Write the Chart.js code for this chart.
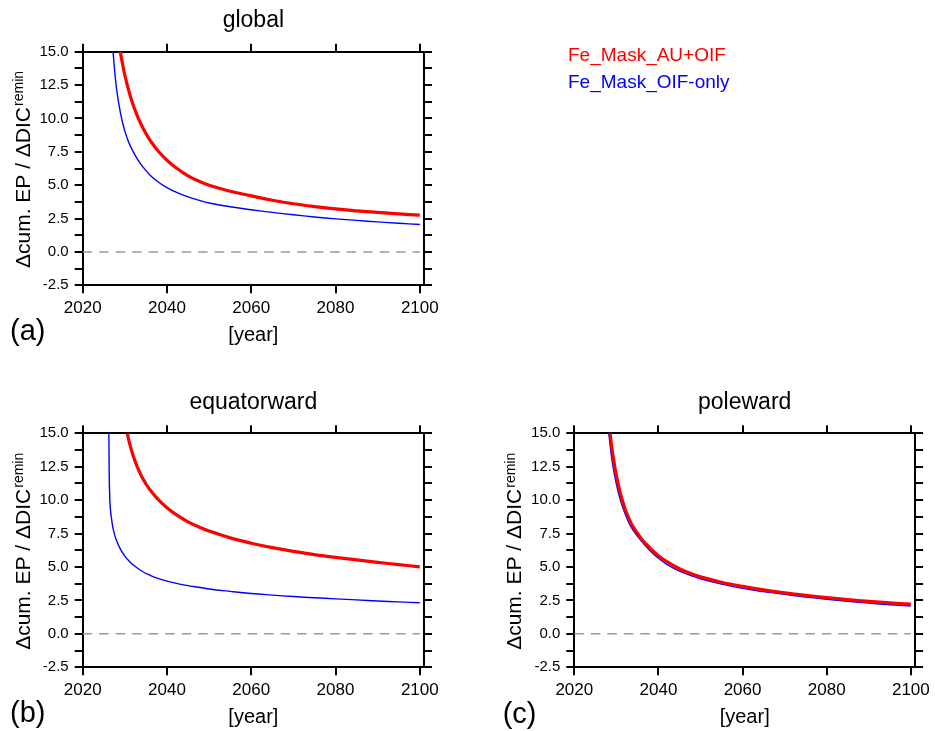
<!DOCTYPE html>
<html>
<head>
<meta charset="utf-8">
<title>cum. EP / DIC remin</title>
<script src="https://cdn.jsdelivr.net/npm/chart.js@4.4.0/dist/chart.umd.min.js"></script>
<style>
  body { margin: 0; background: #fff; }
  #wrap { position: relative; width: 935px; height: 731px; }
  canvas { position: absolute; }
</style>
</head>
<body>
<div id="wrap">
  <canvas id="panelA" width="935" height="365" style="left:0;top:0"></canvas>
  <canvas id="panelB" width="460" height="351" style="left:0;top:380px"></canvas>
  <canvas id="panelC" width="445" height="351" style="left:490px;top:380px"></canvas>
</div>
<script>
// values
var xTickValues = [2020, 2040, 2060, 2080, 2100];
var yTickValues = [-2.5, 0.0, 2.5, 5.0, 7.5, 10.0, 12.5, 15.0];
var seriesNames = ["Fe_Mask_AU+OIF", "Fe_Mask_OIF-only"];
var yTitleMain = "\u0394cum. EP / \u0394DIC";
var yTitleSup = "remin";

// (a) global
var globalAuOifYears  = [2028.9, 2030, 2031, 2032, 2033, 2034, 2035, 2036, 2038, 2040, 2042, 2045,
                         2048, 2050, 2055, 2060, 2065, 2070, 2075, 2080, 2085, 2090, 2095, 2100];
var globalAuOifValues = [15.0, 13.24, 12.0, 10.99, 10.16, 9.47, 8.87, 8.36, 7.52, 6.87, 6.34, 5.70,
                         5.24, 5.0, 4.55, 4.20, 3.87, 3.61, 3.40, 3.22, 3.08, 2.96, 2.85, 2.75];
var globalOifYears    = [2027.2, 2028, 2029, 2030, 2031, 2032, 2033, 2034, 2036, 2038, 2040, 2042,
                         2045, 2048, 2050, 2055, 2060, 2065, 2070, 2075, 2080, 2085, 2090, 2095, 2100];
var globalOifValues   = [15.0, 12.3, 10.35, 9.05, 8.15, 7.5, 6.95, 6.48, 5.75, 5.22, 4.82, 4.5,
                         4.12, 3.83, 3.67, 3.38, 3.16, 2.96, 2.78, 2.62, 2.48, 2.36, 2.25, 2.15, 2.06];

// (b) equatorward
var equatorAuOifYears  = [2030.6, 2031, 2032, 2033, 2034, 2035, 2036, 2038, 2040, 2042, 2045, 2048,
                          2050, 2055, 2060, 2065, 2070, 2075, 2080, 2085, 2090, 2095, 2100];
var equatorAuOifValues = [15.0, 14.4, 13.3, 12.45, 11.77, 11.22, 10.76, 10.02, 9.43, 8.95, 8.38, 7.94,
                          7.69, 7.18, 6.78, 6.45, 6.17, 5.93, 5.72, 5.53, 5.35, 5.18, 5.01];
var equatorOifYears    = [2026.2, 2026.45, 2027, 2027.5, 2028, 2029, 2030, 2031, 2032, 2034, 2036, 2038,
                          2040, 2043, 2046, 2050, 2055, 2060, 2065, 2070, 2075, 2080, 2085, 2090, 2095, 2100];
var equatorOifValues   = [15.0, 9.9, 8.25, 7.5, 7.0, 6.3, 5.82, 5.45, 5.15, 4.7, 4.38, 4.13,
                          3.94, 3.72, 3.55, 3.36, 3.18, 3.02, 2.9, 2.79, 2.7, 2.62, 2.54, 2.46, 2.39, 2.33];

// (c) poleward
var poleAuOifYears  = [2028.5, 2029, 2030, 2031, 2032, 2033, 2034, 2036, 2038, 2040, 2042, 2045, 2048,
                       2050, 2055, 2060, 2065, 2070, 2075, 2080, 2085, 2090, 2095, 2100];
var poleAuOifValues = [15.0, 13.75, 11.85, 10.45, 9.42, 8.62, 8.0, 7.1, 6.42, 5.85, 5.4, 4.87, 4.47,
                       4.26, 3.86, 3.55, 3.29, 3.07, 2.88, 2.71, 2.56, 2.43, 2.32, 2.22];
var poleOifYears    = [2028.2, 2029, 2030, 2031, 2032, 2033, 2034, 2036, 2038, 2040, 2042, 2045, 2048,
                       2050, 2055, 2060, 2065, 2070, 2075, 2080, 2085, 2090, 2095, 2100];
var poleOifValues   = [15.0, 12.9, 11.2, 9.95, 9.05, 8.3, 7.75, 6.92, 6.22, 5.65, 5.2, 4.7, 4.33,
                       4.12, 3.72, 3.4, 3.16, 2.95, 2.76, 2.59, 2.44, 2.3, 2.18, 2.08];

// zero reference line
var zeroYears  = [2020, 2100];
var zeroValues = [0, 0];

var fam = '"Liberation Sans", Arial, Helvetica, sans-serif';
Chart.defaults.font.family = fam;
Chart.defaults.color = "#000";

function points(xs, ys) {
  return xs.map(function(x, i) { return { x: x, y: ys[i] }; });
}

var yMinor = yTickValues.slice(1).map(function(v, i) { return (v + yTickValues[i]) / 2; });
var yAllTicks = yTickValues.concat(yMinor).sort(function(a, b) { return a - b; });

function setXTicks(s) { s.ticks = xTickValues.map(function(v) { return { value: v }; }); }
function setYTicks(s) { s.ticks = yAllTicks.map(function(v) { return { value: v }; }); }

var frameGrid = { drawOnChartArea: false, drawTicks: true, tickLength: 8, tickWidth: 2,
                  tickColor: "#000", color: "#000", lineWidth: 2 };
var frameBorder = { display: true, color: "#000", width: 2 };

// y title with superscript, panel letter and (optional) legend
var panelText = {
  id: "panelText",
  afterDraw: function(chart, args, opts) {
    var c = chart.ctx, ca = chart.chartArea;
    c.save();
    c.fillStyle = "#000";
    c.textAlign = "left";
    c.textBaseline = "alphabetic";
    var mainFont = "21px " + fam, supFont = "14px " + fam;
    c.font = mainFont;
    var w1 = c.measureText(yTitleMain).width;
    c.font = supFont;
    var w2 = c.measureText(yTitleSup).width;
    c.translate(ca.left - 53, (ca.top + ca.bottom) / 2 + 1 + (w1 + w2 + 1) / 2);
    c.rotate(-Math.PI / 2);
    c.font = mainFont;
    c.fillText(yTitleMain, 0, 0);
    c.font = supFont;
    c.fillText(yTitleSup, w1 + 1, -6.5);
    c.restore();

    c.save();
    c.fillStyle = "#000";
    c.textAlign = "left";
    c.textBaseline = "alphabetic";
    c.font = "29px " + fam;
    c.fillText(opts.letter, opts.letterX, opts.letterY);
    if (opts.legend) {
      c.font = "19px " + fam;
      var k = 0;
      chart.data.datasets.forEach(function(ds) {
        if (seriesNames.indexOf(ds.label) < 0) return;
        c.fillStyle = ds.borderColor;
        c.fillText(ds.label, opts.legend.x, opts.legend.y[k]);
        k++;
      });
    }
    c.restore();
  }
};

function makePanel(id, title, auYears, auValues, oifYears, oifValues, g) {
  var W = g.w, H = g.h;
  return new Chart(document.getElementById(id), {
    type: "line",
    data: {
      datasets: [
        { label: seriesNames[0], data: points(auYears, auValues), borderColor: "#ff0000",
          borderWidth: 3.2, pointRadius: 0, fill: false, tension: 0.4 },
        { label: seriesNames[1], data: points(oifYears, oifValues), borderColor: "#0000ff",
          borderWidth: 1.4, pointRadius: 0, fill: false, tension: 0.4 },
        { label: "zero", data: points(zeroYears, zeroValues), borderColor: "#9a9a9a",
          borderWidth: 1.5, borderDash: [9.5, 7], pointRadius: 0, fill: false }
      ]
    },
    options: {
      responsive: false,
      animation: false,
      events: [],
      layout: { autoPadding: false, padding: { left: 0, top: 0, bottom: 0, right: W - g.right - 10 } },
      plugins: {
        legend: { display: false },
        tooltip: { enabled: false },
        title: { display: true, text: title, fullSize: false, color: "#000",
                 font: { size: 23, weight: "normal" }, padding: { top: g.titleMid - 13.8, bottom: 0 } },
        panelText: { letter: g.letter, letterX: g.letterX, letterY: g.letterY, legend: g.legend }
      },
      scales: {
        x: {
          type: "linear", position: "bottom", min: 2020, max: 2101,
          afterBuildTicks: setXTicks,
          afterFit: function(s) { s.height = H - g.bottom; },
          ticks: { font: { size: 17 }, color: "#000", padding: 5, maxRotation: 0, autoSkip: false,
                   callback: function(v) { return String(v); } },
          grid: frameGrid, border: frameBorder,
          title: { display: true, text: "[year]", color: "#000", font: { size: 20 },
                   padding: { top: 0, bottom: H - 12 - g.xTitleMid } }
        },
        xTop: {
          type: "linear", position: "top", min: 2020, max: 2101,
          afterBuildTicks: setXTicks,
          afterFit: function(s) { s.height = g.top - g.titleMid - 13.8; },
          ticks: { display: false },
          grid: frameGrid, border: frameBorder
        },
        y: {
          type: "linear", position: "left", min: -2.5, max: 15,
          afterBuildTicks: setYTicks,
          afterFit: function(s) { s.width = g.left; },
          ticks: { font: { size: 15 }, color: "#000", padding: 6, autoSkip: false,
                   callback: function(v) { return yTickValues.indexOf(v) >= 0 ? v.toFixed(1) : ""; } },
          grid: frameGrid, border: frameBorder
        },
        yRight: {
          type: "linear", position: "right", min: -2.5, max: 15,
          afterBuildTicks: setYTicks,
          afterFit: function(s) { s.width = 10; },
          ticks: { display: false },
          grid: frameGrid, border: frameBorder
        }
      }
    },
    plugins: [panelText]
  });
}

makePanel("panelA", "global", globalAuOifYears, globalAuOifValues, globalOifYears, globalOifValues,
  { w: 935, h: 365, left: 82.7, right: 424, top: 51.7, bottom: 285.3, titleMid: 21, xTitleMid: 335,
    letter: "(a)", letterX: 10, letterY: 340, legend: { x: 568, y: [61, 88] } });

makePanel("panelB", "equatorward", equatorAuOifYears, equatorAuOifValues, equatorOifYears, equatorOifValues,
  { w: 460, h: 351, left: 82.7, right: 424, top: 53.3, bottom: 287.3, titleMid: 22.5, xTitleMid: 337,
    letter: "(b)", letterX: 10, letterY: 341.5 });

makePanel("panelC", "poleward", poleAuOifYears, poleAuOifValues, poleOifYears, poleOifValues,
  { w: 445, h: 351, left: 84.3, right: 426, top: 53.3, bottom: 287.3, titleMid: 22.5, xTitleMid: 337,
    letter: "(c)", letterX: 12.7, letterY: 342.5 });
</script>
</body>
</html>
